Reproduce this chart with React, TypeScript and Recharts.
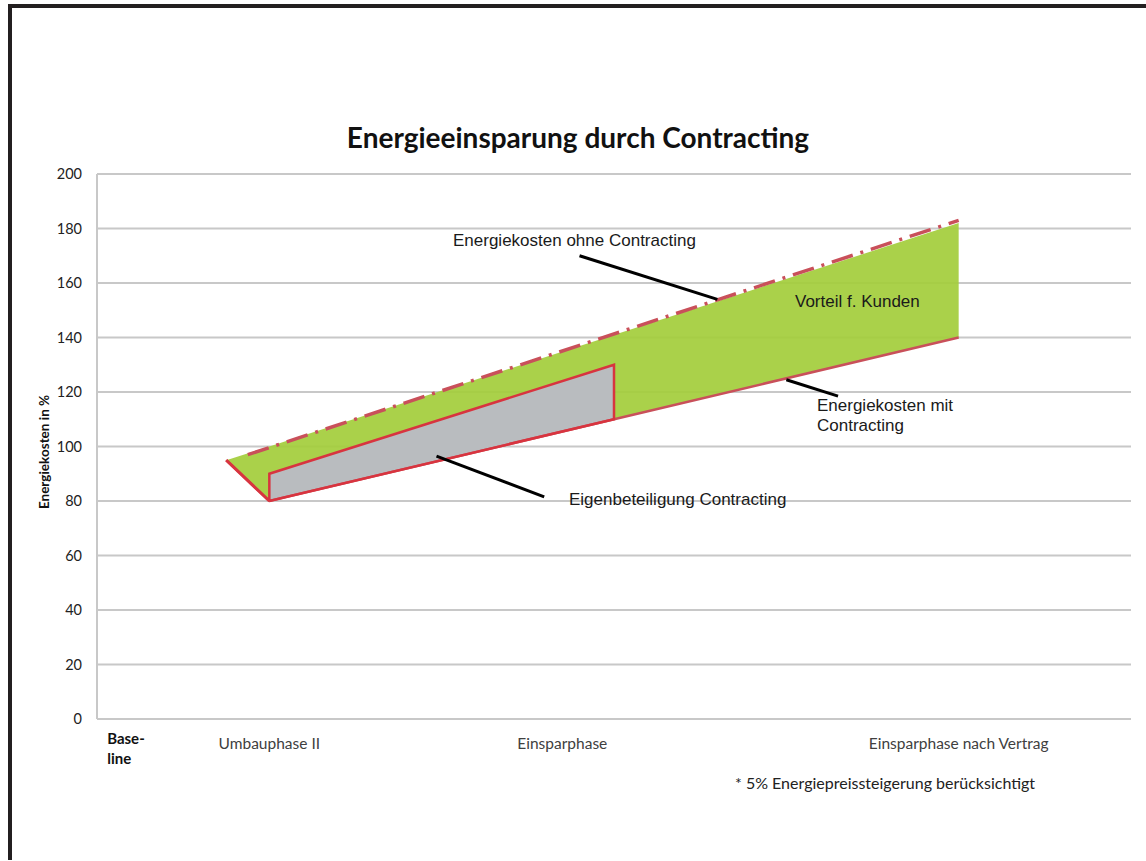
import React from 'react';
import {
  ComposedChart,
  Area,
  Line,
  XAxis,
  YAxis,
  CartesianGrid,
  ReferenceLine,
} from 'recharts';

// Phasen auf der Zeitachse (0..12)
const phaseLabels = ['Base-line', 'Umbauphase II', 'Einsparphase', 'Einsparphase nach Vertrag'];
const phaseTicks = [0.35, 2, 5.4, 10];

const yTicks = [0, 20, 40, 60, 80, 100, 120, 140, 160, 180, 200];

// Energiekosten ohne Contracting
const ohneX = [1.75, 10];
const ohneY = [97, 183];

// Vorteil f. Kunden (Band zwischen mit / ohne)
const vorteilX = [1.5, 2, 10];
const vorteilLow = [95, 80, 140];
const vorteilHigh = [95, 100, 182];

// Eigenbeteiligung Contracting
const eigenX = [2, 6];
const eigenLow = [80, 110];
const eigenHigh = [90, 130];

// Energiekosten mit Contracting
const mitX = [1.5, 2, 10];
const mitY = [95, 80, 140];

// Hinweislinien [x1, y1, x2, y2]
const pointers = [
  [5.6, 170, 7.2, 154],
  [8.0, 124.5, 8.6, 118.5],
  [3.94, 96.5, 5.19, 81.5],
];

const ohneData = ohneX.map((x, i) => ({ x, y: ohneY[i] }));
const vorteilData = vorteilX.map((x, i) => ({ x, range: [vorteilLow[i], vorteilHigh[i]] }));
const eigenData = eigenX.map((x, i) => ({ x, range: [eigenLow[i], eigenHigh[i]] }));
const eigenOutline = [
  { x: eigenX[0], y: eigenLow[0] },
  { x: eigenX[0], y: eigenHigh[0] },
  { x: eigenX[1], y: eigenHigh[1] },
  { x: eigenX[1], y: eigenLow[1] },
  { x: eigenX[0], y: eigenLow[0] },
];
const mitData = mitX.map((x, i) => ({ x, y: mitY[i] }));

const GREEN = '#a4cd3c';
const GRAY = '#b9bcbf';
const RED = '#d8343f';
const RED_DULL = '#c9505a';
const GRID = '#c8c8c8';

const PhaseTick = (props: any) => {
  const { x, y, payload } = props;
  const idx = phaseTicks.indexOf(payload.value);
  const label = phaseLabels[idx] ?? '';
  if (idx === 0) {
    return (
      <text x={x - 20} y={y} fontFamily="Lato" fontWeight="bold" fontSize={15} fill="#111">
        <tspan x={x - 20} dy={23}>Base-</tspan>
        <tspan x={x - 20} dy={20}>line</tspan>
      </text>
    );
  }
  return (
    <text x={x} y={y + 28} textAnchor="middle" fontFamily="Lato" fontSize={15.5} fill="#404040">
      {label}
    </text>
  );
};

const noteStyle: React.CSSProperties = {
  position: 'absolute',
  fontFamily: '"Liberation Sans", Arial, sans-serif',
  fontSize: 17,
  lineHeight: '20px',
  color: '#1a1a1a',
  whiteSpace: 'nowrap',
};

export default function App() {
  return (
    <div
      style={{
        position: 'absolute',
        left: 0,
        top: 0,
        width: 1146,
        height: 861,
        background: '#fff',
        overflow: 'hidden',
      }}
    >
      {/* Rahmen */}
      <div
        style={{
          position: 'absolute',
          left: 8,
          top: 4,
          width: 1150,
          height: 856,
          borderTop: '4px solid #231f20',
          borderLeft: '4px solid #231f20',
          boxSizing: 'border-box',
        }}
      />

      <div
        style={{
          position: 'absolute',
          left: 0,
          top: 121,
          width: 1156,
          textAlign: 'center',
          fontFamily: 'Lato',
          fontWeight: 'bold',
          fontSize: 28,
          lineHeight: '32px',
          color: '#111',
        }}
      >
        Energieeinsparung durch Contracting
      </div>

      <div style={{ position: 'absolute', left: 0, top: 0 }}>
        <ComposedChart
          width={1146}
          height={861}
          margin={{ top: 174, right: 15, bottom: 112, left: 37 }}
          style={{ fontFamily: 'Lato' }}
        >
          <XAxis
            type="number"
            dataKey="x"
            domain={[0, 12]}
            ticks={phaseTicks}
            interval={0}
            tick={<PhaseTick />}
            tickLine={false}
            tickSize={0}
            height={30}
            axisLine={{ stroke: GRID, strokeWidth: 2 }}
          />
          <YAxis
            type="number"
            domain={[0, 200]}
            ticks={yTicks}
            interval={0}
            width={60}
            tickLine={false}
            tickSize={0}
            tickMargin={15}
            tick={{ fill: '#222', fontSize: 14.5, fontFamily: 'Lato' }}
            axisLine={{ stroke: GRID, strokeWidth: 2 }}
          />
          <CartesianGrid vertical={false} stroke={GRID} strokeWidth={2} />
          <Area
            data={vorteilData}
            dataKey="range"
            type="linear"
            fill={GREEN}
            fillOpacity={0.93}
            stroke="none"
            isAnimationActive={false}
            activeDot={false}
          />
          <Area
            data={eigenData}
            dataKey="range"
            type="linear"
            fill={GRAY}
            fillOpacity={1}
            stroke="none"
            isAnimationActive={false}
            activeDot={false}
          />
          <Line
            data={mitData}
            dataKey="y"
            type="linear"
            stroke={RED_DULL}
            strokeWidth={2.5}
            dot={false}
            activeDot={false}
            isAnimationActive={false}
          />
          <Line
            data={eigenOutline}
            dataKey="y"
            type="linear"
            stroke={RED}
            strokeWidth={2.5}
            dot={false}
            activeDot={false}
            isAnimationActive={false}
          />
          <Line
            data={mitData.slice(0, 2)}
            dataKey="y"
            type="linear"
            stroke={RED}
            strokeWidth={3}
            dot={false}
            activeDot={false}
            isAnimationActive={false}
          />
          <Line
            data={ohneData}
            dataKey="y"
            type="linear"
            stroke={RED_DULL}
            strokeWidth={3.5}
            strokeDasharray="22 8 3 8"
            dot={false}
            activeDot={false}
            isAnimationActive={false}
          />
          {pointers.map(([x1, y1, x2, y2], i) => (
            <ReferenceLine
              key={i}
              segment={[
                { x: x1, y: y1 },
                { x: x2, y: y2 },
              ]}
              stroke="#000"
              strokeWidth={3}
            />
          ))}
        </ComposedChart>
      </div>

      <div
        style={{
          position: 'absolute',
          left: 44,
          top: 452,
          transform: 'translate(-50%, -50%) rotate(-90deg)',
          fontFamily: 'Lato',
          fontWeight: 'bold',
          fontSize: 13.5,
          color: '#111',
          whiteSpace: 'nowrap',
        }}
      >
        Energiekosten in %
      </div>

      <div style={{ ...noteStyle, left: 453, top: 231 }}>Energiekosten ohne Contracting</div>
      <div style={{ ...noteStyle, left: 795, top: 292 }}>Vorteil f. Kunden</div>
      <div style={{ ...noteStyle, left: 817, top: 396 }}>
        Energiekosten mit
        <br />
        Contracting
      </div>
      <div style={{ ...noteStyle, left: 569, top: 490 }}>Eigenbeteiligung Contracting</div>

      <div
        style={{
          position: 'absolute',
          left: 735,
          top: 773,
          fontFamily: 'Lato',
          fontSize: 16,
          color: '#222',
          whiteSpace: 'nowrap',
        }}
      >
        * 5% Energiepreissteigerung berücksichtigt
      </div>
    </div>
  );
}
